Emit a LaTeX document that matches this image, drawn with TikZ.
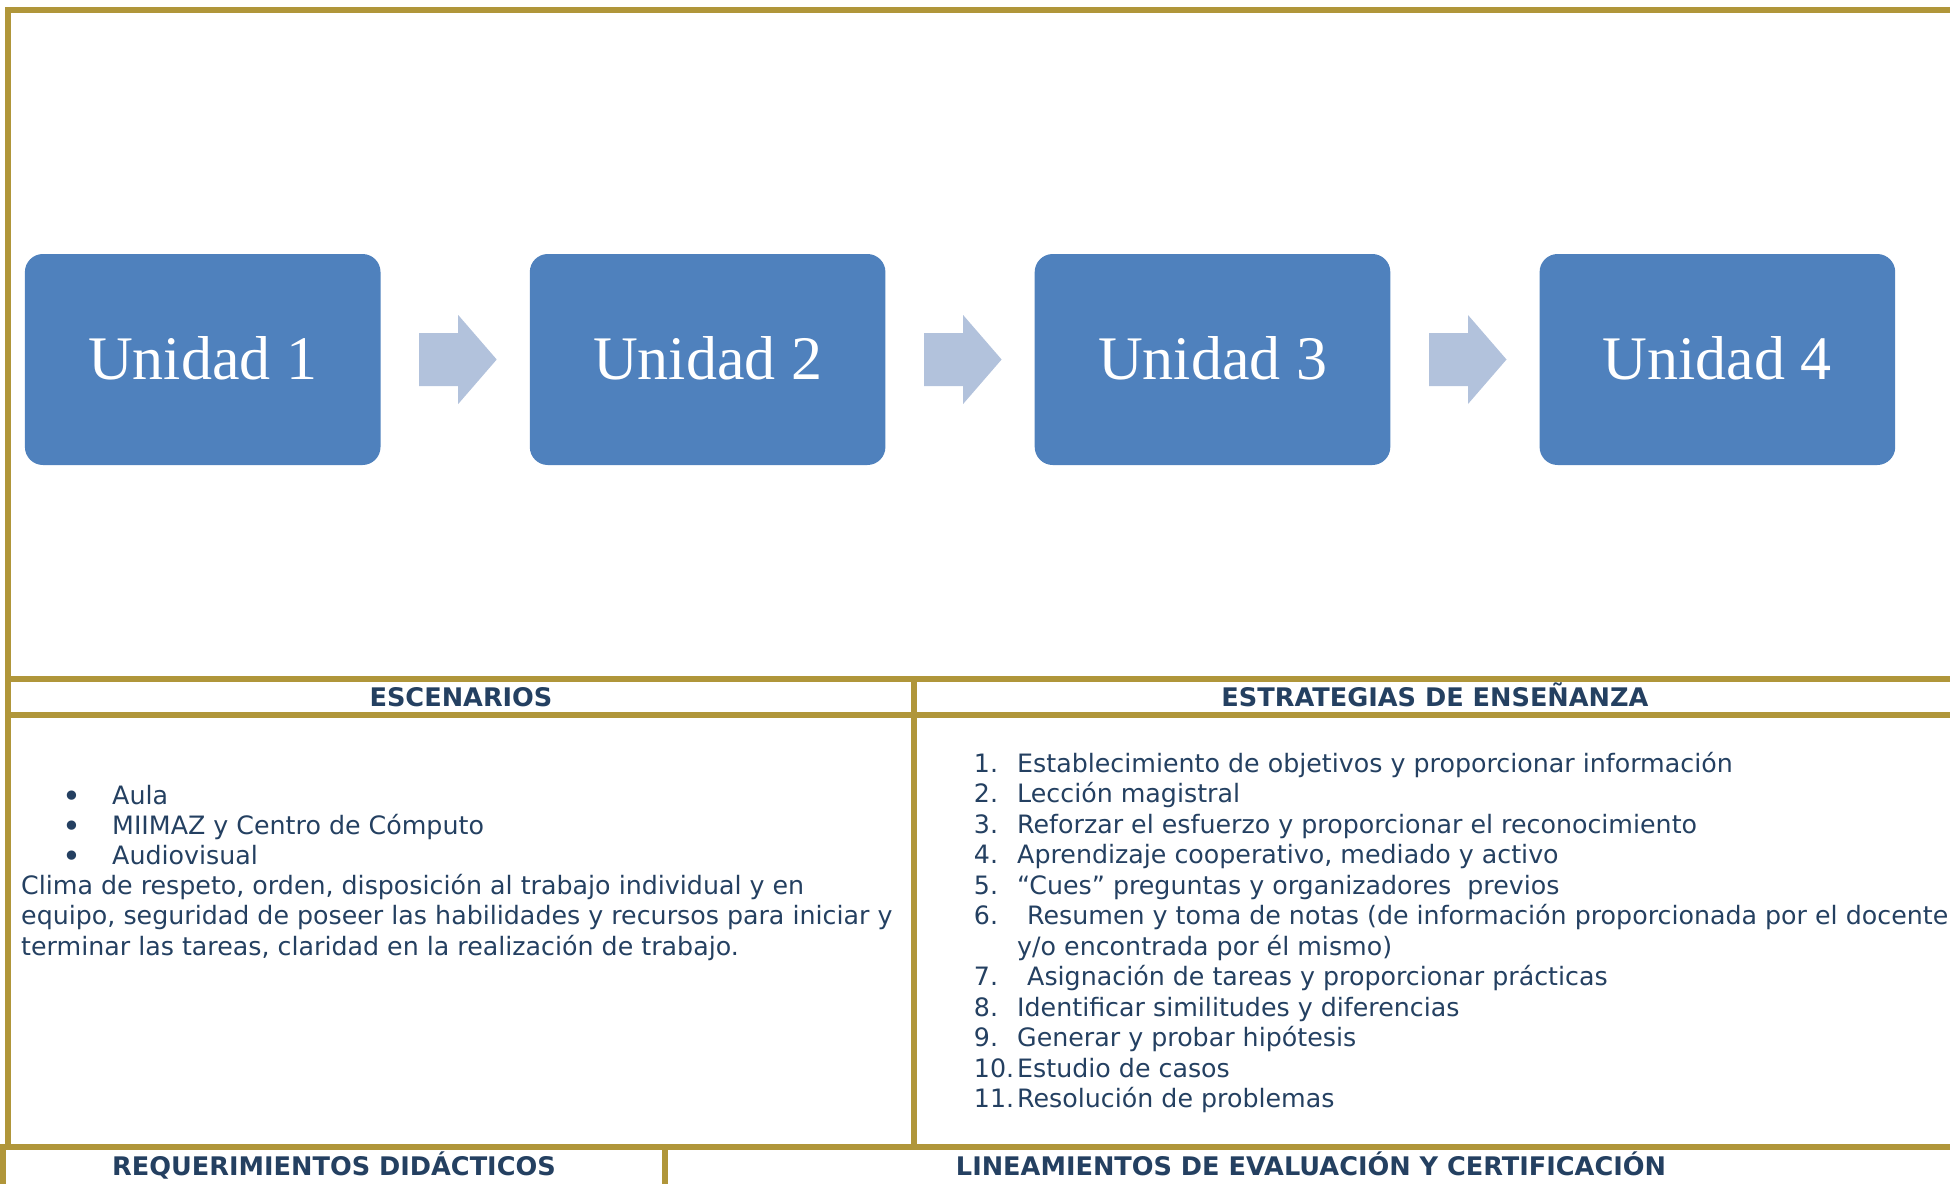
\documentclass[tikz,border=0pt]{standalone}
\usepackage{fontspec}
\setmainfont{DejaVu Sans}
\newfontfamily\unifont{Liberation Serif}
\usetikzlibrary{calc}
\definecolor{gold}{RGB}{176,150,58}
\definecolor{boxblue}{RGB}{79,129,189}
\definecolor{arrowblue}{RGB}{178,194,220}
\definecolor{navy}{RGB}{36,64,97}
\tikzset{
  gridline/.style={draw=gold, line width=6pt},
  unit/.style={rounded corners=18pt, fill=boxblue, minimum width=355.6pt, minimum height=211pt,
    inner sep=0pt, text=white, font=\unifont\fontsize{62}{74}\selectfont, text height=39pt, text depth=0pt},
  chevron/.style={fill=arrowblue},
  hdr/.style={anchor=base, text=navy, font=\bfseries\fontsize{25.6}{30}\selectfont, inner sep=0pt},
  body/.style={anchor=base west, text=navy, font=\fontsize{25.3}{30}\selectfont, inner sep=0pt},
  bul/.style={anchor=base, text=navy, font=\fontsize{32}{36}\selectfont, inner sep=0pt},
}
\begin{document}
\begin{tikzpicture}[x=1pt,y=-1pt]
\useasboundingbox (0,0) rectangle (1950,1183);
\clip (0,0) rectangle (1950,1183);
% table rules
\draw[gridline] (8,7) -- (8,1147);
\draw[gridline] (5,10) -- (1960,10);
\draw[gridline] (5,679) -- (1960,679);
\draw[gridline] (5,715) -- (1960,715);
\draw[gridline] (914,676) -- (914,1147);
\draw[gridline] (0,1147) -- (1960,1147);
\draw[gridline] (3,1144) -- (3,1190);
\draw[gridline] (665,1144) -- (665,1190);
% process
\node[unit] (u1) at (202.7,359.5) {Unidad 1};
\node[unit] (u2) at (707.6,359.5) {Unidad 2};
\node[unit] (u3) at (1212.5,359.5) {Unidad 3};
\node[unit] (u4) at (1717.4,359.5) {Unidad 4};
\foreach \a in {u1,u2,u3}
  \fill[chevron] (\a.east) ++(38.5,-26.5) -- ++(39,0) -- ++(0,-18) -- ++(38.5,44.5)
     -- ++(-38.5,44.5) -- ++(0,-18) -- ++(-39,0) -- cycle;
% headers
\node[hdr] (h1) at (461,706.7) {ESCENARIOS};
\node[hdr] (h2) at (1435,706.7) {ESTRATEGIAS DE ENSEÑANZA};
\node[hdr] (h3) at (334,1175) {REQUERIMIENTOS DIDÁCTICOS};
\node[hdr] (h4) at (1311,1175) {LINEAMIENTOS DE EVALUACIÓN Y CERTIFICACIÓN};
% escenarios
\foreach \t [count=\i] in {Aula, MIIMAZ y Centro de Cómputo, Audiovisual} {
  \node[bul] (b\i) at (71.7,{804.3+30.3*(\i-1)+3}) {•};
  \node[body] (e\i) at (112,{804.3+30.3*(\i-1)}) {\t};
}
\node[body] (c1) at (21,894.6) {Clima de respeto, orden, disposición al trabajo individual y en};
\node[body] (c2) at (21,924.9) {equipo, seguridad de poseer las habilidades y recursos para iniciar y};
\node[body] (c3) at (21,955.2) {terminar las tareas, claridad en la realización de trabajo.};
% estrategias
\node[body] (n1) at (973.7,772.4) {1.};
\node[body] (s1) at (1017,772.4) {Establecimiento de objetivos y proporcionar información};
\node[body] (n2) at (973.7,802.9) {2.};
\node[body] (s2) at (1017,802.9) {Lección magistral};
\node[body] (n3) at (973.7,833.3) {3.};
\node[body] (s3) at (1017,833.3) {Reforzar el esfuerzo y proporcionar el reconocimiento};
\node[body] (n4) at (973.7,863.8) {4.};
\node[body] (s4) at (1017,863.8) {Aprendizaje cooperativo, mediado y activo};
\node[body] (n5) at (973.7,894.2) {5.};
\node[body] (s5) at (1017,894.2) {“Cues” preguntas y organizadores\ \ previos};
\node[body] (n6) at (973.7,924.7) {6.};
\node[body] (s6) at (1027,924.7) {Resumen y toma de notas (de información proporcionada por el docente};
\node[body] (s6b) at (1017,955.1) {y/o encontrada por él mismo)};
\node[body] (n7) at (973.7,985.6) {7.};
\node[body] (s7) at (1027,985.6) {Asignación de tareas y proporcionar prácticas};
\node[body] (n8) at (973.7,1016) {8.};
\node[body] (s8) at (1017,1016) {Identificar similitudes y diferencias};
\node[body] (n9) at (973.7,1046.5) {9.};
\node[body] (s9) at (1017,1046.5) {Generar y probar hipótesis};
\node[body] (n10) at (973.7,1077) {10.};
\node[body] (s10) at (1017,1077) {Estudio de casos};
\node[body] (n11) at (973.7,1107.4) {11.};
\node[body] (s11) at (1017,1107.4) {Resolución de problemas};
\end{tikzpicture}
\end{document}
